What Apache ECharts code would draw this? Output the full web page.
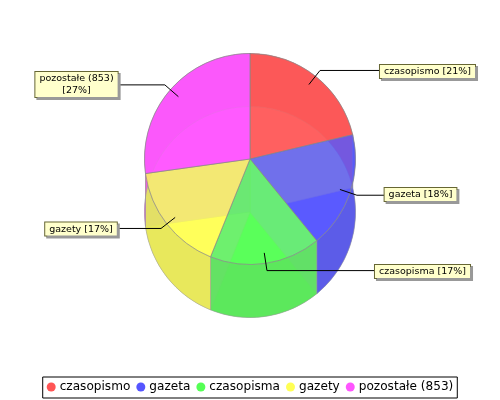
<!DOCTYPE html>
<html>
<head>
<meta charset="utf-8">
<script src="https://cdn.jsdelivr.net/npm/echarts@6/dist/echarts.min.js"></script>
<style>
    html, body { margin: 0; padding: 0; background: #fff; }
    #chart { width: 500px; height: 400px; }
</style>
</head>
<body>
<div id="chart"></div>
<script>
// data
const categories = ['czasopismo', 'gazeta', 'czasopisma', 'gazety', 'pozostałe (853)'];
const shares = [21.3, 17.8, 17.0, 16.7, 27.2];

// colours per slice: top face, lower face, rim wall, and the radial wall at the slice start
const colors = ['#ff5555', '#5555ff', '#55ff55', '#ffff55', '#ff55ff'];
const lowerColors = ['#ff8c8c', '#6e6eff', '#6eff6e', '#ffff6e', '#ff6eff'];
const wallColors = ['#f05a5a', '#5a5ae6', '#5ae65a', '#e6e65a', '#e65ae6'];
const edgeColors = ['#ff8c8c', '#dcdc9b', '#b99bff', '#d2b4d2', '#c38ceb'];

const CX = 250, CY = 159, R = 105.5, DEPTH = 53;
const TOP_ALPHA = 0.8;
const total = shares.reduce((a, b) => a + b, 0);

// slice start/end, clockwise from 12 o'clock, in radians
function sliceAngles(i) {
    let sum = 0;
    for (let k = 0; k < i; k++) sum += shares[k];
    return [sum / total * Math.PI * 2, (sum + shares[i]) / total * Math.PI * 2];
}
function rimPoint(a, r, dy) {
    return [CX + Math.sin(a) * r, CY + dy - Math.cos(a) * r];
}

// radial wall between a slice and the one before it
function renderEdge(params) {
    const a = sliceAngles(params.dataIndex)[0];
    return {
        type: 'polygon',
        shape: { points: [rimPoint(a, 0, 0), rimPoint(a, 0, DEPTH), rimPoint(a, R, DEPTH), rimPoint(a, R, 0)] },
        style: { fill: edgeColors[params.dataIndex], stroke: '#aaa', lineWidth: 0.5 }
    };
}

// rim wall of one slice: the rim swept down by the depth
function renderWall(params) {
    const [a0, a1] = sliceAngles(params.dataIndex);
    const top = [], bottom = [];
    for (let i = 0; i <= 48; i++) {
        const a = a0 + (a1 - a0) * i / 48;
        top.push(rimPoint(a, R, 0));
        bottom.unshift(rimPoint(a, R, DEPTH));
    }
    return {
        type: 'polygon',
        shape: { points: top.concat(bottom) },
        style: { fill: wallColors[params.dataIndex], opacity: 0.92, stroke: '#999', lineWidth: 0.5 }
    };
}

// label boxes: horizontal centre and top of each box
const boxPos = [[427.5, 65], [420.5, 188], [422.5, 265], [81, 222.5], [76.5, 72]];
const lineEnd = [380, 384, 375, 117, 119];

function pieData(palette) {
    return categories.map((name, i) => ({
        name: name,
        value: shares[i],
        itemStyle: { color: palette[i] }
    }));
}

const chart = echarts.init(document.getElementById('chart'), null, { renderer: 'canvas' });
chart.setOption({
    animation: false,
    backgroundColor: '#fff',
    textStyle: { fontFamily: 'DejaVu Sans' },
    legend: {
        data: categories.map((name, i) => ({ name: name, itemStyle: { color: colors[i], borderWidth: 0 } })),
        left: 'center',
        top: 377,
        icon: 'circle',
        itemWidth: 9,
        itemHeight: 9,
        itemGap: 6,
        selectedMode: false,
        borderColor: '#000',
        borderWidth: 1,
        padding: [4, 4, 5, 4],
        textStyle: { fontFamily: 'DejaVu Sans', fontSize: 12.1, color: '#000', padding: [0, 0, 0, -1] }
    },
    series: [
        {
            // lower face
            type: 'pie',
            z: 1,
            silent: true,
            center: [CX, CY + DEPTH],
            radius: [0, R],
            startAngle: 90,
            label: { show: false },
            labelLine: { show: false },
            itemStyle: { borderColor: '#aaa', borderWidth: 0.5 },
            data: pieData(lowerColors)
        },
        {
            type: 'custom',
            name: 'edges',
            z: 2,
            silent: true,
            coordinateSystem: 'none',
            renderItem: renderEdge,
            data: shares
        },
        {
            type: 'custom',
            name: 'walls',
            z: 3,
            silent: true,
            coordinateSystem: 'none',
            renderItem: renderWall,
            data: shares
        },
        {
            // upper face
            type: 'pie',
            z: 4,
            silent: true,
            center: [CX, CY],
            radius: [0, R],
            startAngle: 90,
            label: { show: false },
            labelLine: { show: false },
            itemStyle: { opacity: TOP_ALPHA, borderColor: '#888', borderWidth: 0.8 },
            data: pieData(colors)
        },
        {
            // invisible copy on top, only here to carry the labels above the faces
            type: 'pie',
            z: 5,
            silent: true,
            center: [CX, CY],
            radius: [0, R],
            startAngle: 90,
            percentPrecision: 0,
            avoidLabelOverlap: false,
            itemStyle: { color: 'transparent', borderWidth: 0 },
            label: {
                show: true,
                position: 'outside',
                formatter: p => p.name + (p.name.length > 12 ? '\n' : ' ') + '[' + p.percent + '%]',
                fontFamily: 'DejaVu Sans',
                fontSize: 9.5,
                lineHeight: 12,
                color: '#000',
                opacity: 1,
                backgroundColor: '#ffffcc',
                borderColor: '#666633',
                borderWidth: 1,
                padding: [1, 4, 0, 4],
                shadowColor: '#999',
                shadowOffsetX: 2,
                shadowOffsetY: 2,
                shadowBlur: 0
            },
            labelLine: { show: true, smooth: false, lineStyle: { color: '#000', width: 1, opacity: 1 } },
            labelLayout: params => {
                const i = params.dataIndex;
                const [a0, a1] = sliceAngles(i);
                const mid = (a0 + a1) / 2;
                const anchor = rimPoint(mid, R * 0.9, 0);
                const elbow = rimPoint(mid, R * 1.07, 0);
                return {
                    x: boxPos[i][0],
                    y: boxPos[i][1],
                    align: 'center',
                    verticalAlign: 'top',
                    labelLinePoints: [anchor, elbow, [lineEnd[i], elbow[1]]]
                };
            },
            data: categories.map((name, i) => ({ name: name, value: shares[i] }))
        }
    ]
});
</script>
</body>
</html>
